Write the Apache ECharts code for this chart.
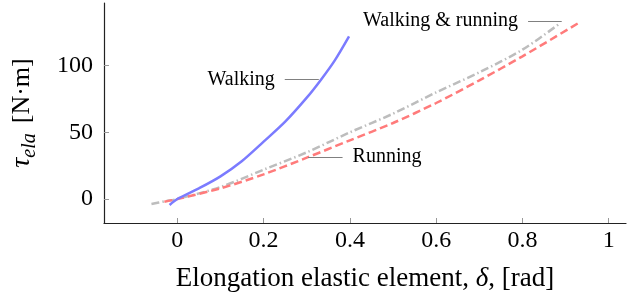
<!DOCTYPE html>
<html>
<head>
<meta charset="utf-8">
<script src="https://cdn.jsdelivr.net/npm/echarts@6/dist/echarts.min.js"></script>
<style>
  html, body { margin: 0; padding: 0; background: #fff; }
  #chart { width: 634px; height: 299px; }
</style>
</head>
<body>
<div id="chart"></div>
<script>
// values
const walkDelta = [-0.018, 0, 0.05, 0.1, 0.15, 0.2, 0.25, 0.3, 0.333, 0.365, 0.398]
const walkTau = [-4.5, 0, 8, 17, 28.5, 43, 58, 76, 89.5, 104, 122]

const bothDelta = [-0.06, -0.03, 0, 0.1, 0.2, 0.3, 0.4, 0.5, 0.6, 0.7, 0.8, 0.888]
const bothTau = [-3.8, -1.8, 0, 9, 22, 35, 50, 64, 80, 95, 112, 132]

const runDelta = [-0.03, 0, 0.1, 0.2, 0.3, 0.4, 0.5, 0.6, 0.7, 0.8, 0.93]
const runTau = [-2, 0, 8, 18.5, 31, 44, 57, 72, 89, 107, 132]

const xTicks = [0, 0.2, 0.4, 0.6, 0.8, 1]
const yTicks = [0, 50, 100]

const serif = '"Liberation Serif", "Times New Roman", serif'

function pairs (xs, ys) {
  return xs.map((x, i) => [x, ys[i]])
}

var myChart = echarts.init(document.getElementById('chart'))

// connector line + label for each curve
function note (text, from, to, pos) {
  return {
    silent: true,
    symbol: 'none',
    lineStyle: { color: '#808080', width: 1, type: 'solid' },
    label: {
      show: true,
      position: pos,
      formatter: text,
      distance: 10,
      color: '#000',
      fontFamily: serif,
      fontSize: 20
    },
    data: [[{ coord: from }, { coord: to }]]
  }
}

var option = {
  animation: false,
  grid: { left: 103, right: 8, top: 3, bottom: 76 },
  xAxis: {
    type: 'value',
    min: -0.17,
    max: 1.04,
    name: 'Elongation elastic element, {i|δ}, [rad]',
    nameLocation: 'middle',
    nameGap: 42,
    nameTextStyle: {
      fontFamily: serif, fontSize: 27, color: '#000',
      rich: { i: { fontFamily: serif, fontSize: 27, fontStyle: 'italic', color: '#000' } }
    },
    splitLine: { show: false },
    axisLine: { onZero: false, lineStyle: { color: '#222', width: 1.2 } },
    axisTick: { inside: true, length: 5, customValues: xTicks, lineStyle: { color: '#999' } },
    axisLabel: {
      customValues: xTicks,
      margin: 6,
      color: '#000',
      fontFamily: serif,
      fontSize: 24,
      formatter: v => String(v)
    }
  },
  yAxis: {
    type: 'value',
    min: -18,
    max: 147,
    name: '{t|τ}{s|ela}{g|}[N·m]',
    nameLocation: 'middle',
    nameRotate: 90,
    nameGap: 64,
    nameTextStyle: {
      fontFamily: serif, fontSize: 26, color: '#000',
      rich: {
        t: { fontFamily: serif, fontSize: 28, fontStyle: 'italic', color: '#000', lineHeight: 36 },
        s: { fontFamily: serif, fontSize: 20, fontStyle: 'italic', color: '#000', lineHeight: 22, verticalAlign: 'bottom' },
        g: { width: 10 }
      }
    },
    splitLine: { show: false },
    axisLine: { show: true, onZero: false, lineStyle: { color: '#222', width: 1.2 } },
    axisTick: { show: true, inside: true, length: 5, customValues: yTicks, lineStyle: { color: '#999' } },
    axisLabel: {
      customValues: yTicks,
      margin: 11,
      color: '#000',
      fontFamily: serif,
      fontSize: 24
    }
  },
  series: [
    {
      name: 'Walking & running',
      type: 'line',
      data: pairs(bothDelta, bothTau),
      smooth: 0.3,
      showSymbol: false,
      lineStyle: { color: '#bdbdbd', width: 2.5, type: [8, 3, 1.5, 3] },
      markLine: note('Walking & running', [0.813, 133.6], [0.891, 133.6], 'start')
    },
    {
      name: 'Running',
      type: 'line',
      data: pairs(runDelta, runTau),
      smooth: 0.3,
      showSymbol: false,
      lineStyle: { color: '#ff7b7b', width: 2.5, type: [8, 4] },
      markLine: note('Running', [0.303, 31.6], [0.383, 31.6], 'end')
    },
    {
      name: 'Walking',
      type: 'line',
      data: pairs(walkDelta, walkTau),
      smooth: 0.3,
      showSymbol: false,
      lineStyle: { color: '#7b7bff', width: 2.5 },
      markLine: note('Walking', [0.249, 89.6], [0.328, 89.6], 'start')
    }
  ]
}

myChart.setOption(option)
</script>
</body>
</html>
